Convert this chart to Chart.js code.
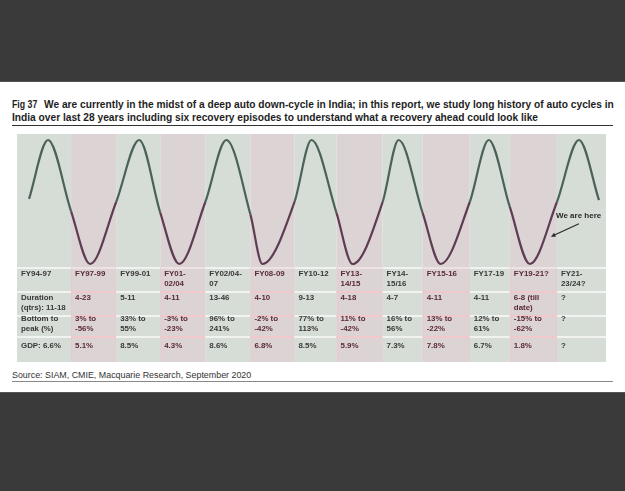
<!DOCTYPE html>
<html>
<head>
<meta charset="utf-8">
<script src="https://cdn.jsdelivr.net/npm/chart.js@4/dist/chart.umd.min.js"></script>
<style>
  body { margin: 0; width: 625px; height: 491px; background: #fff; position: relative; overflow: hidden;
         font-family: "Liberation Sans", Arial, sans-serif; }
  .dark { position: absolute; left: 0; width: 625px; background: #3a3a3a; }
  .title { position: absolute; left: 12px; top: 99px; font-size: 10.2px; line-height: 12.5px; font-weight: bold;
           color: #1e1e1e; white-space: pre; }
  .title .fig { display: inline-block; width: 32px; }
  .title .fig b { display: inline-block; transform: scaleX(0.86); transform-origin: left; }
  .rule { position: absolute; left: 12px; width: 601px; height: 1px; }
  .source { position: absolute; left: 12px; top: 370px; font-size: 8.9px; line-height: 11px; color: #333; }
  #chartBox { position: absolute; left: 0; top: 128px; width: 625px; height: 240px; }
  .cell { position: absolute; font-size: 7.9px; line-height: 10px; font-weight: bold; white-space: pre; }
  .here { position: absolute; left: 556px; top: 211px; font-size: 8px; line-height: 10px; font-weight: bold; color: #2a2a2a; }
</style>
</head>
<body>
<div class="dark" style="top:0;height:81px;border-bottom:1px solid #555"></div>
<div class="title"><span class="fig"><b>Fig 37</b></span>We are currently in the midst of a deep auto down-cycle in India; in this report, we study long history of auto cycles in
India over last 28 years including six recovery episodes to understand what a recovery ahead could look like</div>
<div class="rule" style="top:125px;background:#333"></div>
<div id="chartBox"><canvas id="cycleChart"></canvas></div>
<div class="here">We are here</div>
<div class="source">Source: SIAM, CMIE, Macquarie Research, September 2020</div>
<div class="rule" style="top:381px;background:#888"></div>
<div class="dark" style="top:392px;height:99px;border-top:1px solid #555"></div>
<div id="table"></div>

<script>
// Period columns (edges on the schematic time axis) and table rows
const periodEdges = [0, 54, 99, 143, 188, 233, 277, 319, 365, 405, 452, 492, 539, 588];
const periodLabels = ['FY94-97', 'FY97-99', 'FY99-01', 'FY01-\n02/04', 'FY02/04-\n07', 'FY08-09', 'FY10-12',
                      'FY13-\n14/15', 'FY14-\n15/16', 'FY15-16', 'FY17-19', 'FY19-21?', 'FY21-\n23/24?'];
const durationQtrs = ['Duration\n(qtrs): 11-18', '4-23', '5-11', '4-11', '13-46', '4-10', '9-13', '4-18', '4-7',
                      '4-11', '4-11', '6-8 (till\ndate)', '?'];
const bottomToPeak = ['Bottom to\npeak (%)', '3% to\n-56%', '33% to\n55%', '-3% to\n-23%', '96% to\n241%',
                      '-2% to\n-42%', '77% to\n113%', '11% to\n-42%', '16% to\n56%', '13% to\n-22%',
                      '12% to\n61%', '-15% to\n-62%', '?'];
const gdpGrowth = ['GDP: 6.6%', '5.1%', '8.5%', '4.3%', '8.6%', '6.8%', '8.5%', '5.9%', '7.3%', '7.8%',
                   '6.7%', '1.8%', '?'];

// Cycle curve: time position and level (-1 trough, +1 peak)
const cycleTime  = [12, 31, 54, 73, 99, 122, 143, 162, 188, 209, 233, 245, 277, 294, 319, 335, 365,
                    381, 405, 423, 452, 471, 492, 512, 539, 561, 581];
const cycleLevel = [0.05, 1, -0.15, -1, 0, 1, -0.17, -1, 0, 1, -0.2, -1, 0, 1, -0.18, -1, 0,
                    1, -0.18, -1, 0, 1, -0.08, -1, 0, 1, 0.03];

const greenBand = '#d6dcd6';
const pinkBand = '#dcd3d4';
const greenLine = '#4a6259';
const pinkLine = '#5e3c52';

function isPink(value) {
    for (let i = 0; i < periodEdges.length - 1; i++) {
        if (value >= periodEdges[i] && value < periodEdges[i + 1]) return i % 2 === 1;
    }
    return false;
}

// Canvas y positions (relative to the chart box) for bands and table rows
const bandTop = 6, bandBottom = 234;
const rowLines = [140, 164, 188, 209];

const bandPlugin = {
    id: 'bands',
    beforeDatasetsDraw(chart) {
        const { ctx, scales: { x } } = chart;
        ctx.save();
        for (let i = 0; i < periodEdges.length - 1; i++) {
            const x0 = x.getPixelForValue(periodEdges[i]);
            const x1 = x.getPixelForValue(periodEdges[i + 1]);
            const pink = i % 2 === 1;
            ctx.fillStyle = pink ? pinkBand : greenBand;
            ctx.fillRect(x0, bandTop, x1 - x0, bandBottom - bandTop);
            // row separators
            rowLines.forEach((ry, k) => {
                ctx.fillStyle = pink ? (k === 0 ? '#efe2e3' : '#f1c9cc') : '#f1f3f1';
                ctx.fillRect(x0, ry - 1, x1 - x0, 2);
            });
            if (pink) {
                ctx.fillStyle = '#e9c9cc';
                ctx.fillRect(x0, rowLines[0], 1, bandBottom - rowLines[0]);
                ctx.fillRect(x1 - 1, rowLines[0], 1, bandBottom - rowLines[0]);
            }
        }
        ctx.restore();
    },
    afterDatasetsDraw(chart) {
        // "We are here" arrow
        const { ctx, scales: { x, y } } = chart;
        const tx = x.getPixelForValue(533), ty = y.getPixelForValue(-0.56);
        const sx = tx + 28, sy = ty - 13;
        ctx.save();
        ctx.strokeStyle = '#2a2a2a';
        ctx.fillStyle = '#2a2a2a';
        ctx.lineWidth = 1.2;
        ctx.beginPath();
        ctx.moveTo(sx, sy);
        ctx.lineTo(tx + 3, ty - 1.4);
        ctx.stroke();
        const ang = Math.atan2(ty - sy, tx - sx);
        ctx.beginPath();
        ctx.moveTo(tx, ty);
        ctx.lineTo(tx - 5 * Math.cos(ang - 0.45), ty - 5 * Math.sin(ang - 0.45));
        ctx.lineTo(tx - 5 * Math.cos(ang + 0.45), ty - 5 * Math.sin(ang + 0.45));
        ctx.closePath();
        ctx.fill();
        ctx.restore();
    }
};

const chart = new Chart(document.getElementById('cycleChart'), {
    type: 'line',
    data: {
        datasets: [{
            data: cycleTime.map((t, i) => ({ x: t, y: cycleLevel[i] })),
            borderWidth: 2.2,
            borderColor: greenLine,
            cubicInterpolationMode: 'monotone',
            pointRadius: 0,
            clip: 6,
            segment: {
                borderColor: ctx => isPink((ctx.p0.parsed.x + ctx.p1.parsed.x) / 2) ? pinkLine : greenLine
            }
        }]
    },
    options: {
        responsive: true,
        maintainAspectRatio: false,
        animation: false,
        layout: { padding: { left: 17, right: 19, top: 12, bottom: 104 } },
        scales: {
            x: { type: 'linear', min: periodEdges[0], max: periodEdges[periodEdges.length - 1], display: false },
            y: { min: -1, max: 1, display: false }
        },
        plugins: { legend: { display: false }, tooltip: { enabled: false } },
        events: []
    },
    plugins: [bandPlugin]
});

// Table text, aligned to the period columns
const table = document.getElementById('table');
const rows = [[periodLabels, 269], [durationQtrs, 293], [bottomToPeak, 314], [gdpGrowth, 341]];
rows.forEach(([texts, top]) => {
    texts.forEach((t, i) => {
        const div = document.createElement('div');
        div.className = 'cell';
        div.textContent = t;
        div.style.left = (chart.scales.x.getPixelForValue(periodEdges[i]) + 4) + 'px';
        div.style.top = top + 'px';
        div.style.color = i % 2 === 1 ? '#5a2a36' : '#383838';
        table.appendChild(div);
    });
});
</script>
</body>
</html>
